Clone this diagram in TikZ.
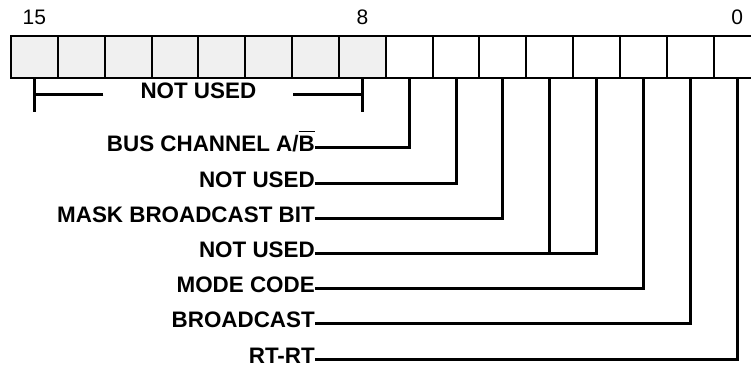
\documentclass[tikz,border=0pt]{standalone}
\usepackage{fontspec}
\setmainfont{Liberation Sans}
\usetikzlibrary{positioning,calc}
\definecolor{unused}{HTML}{F0F0F0}
\newcommand\negbar[1]{\setbox0\hbox{#1}\rlap{\rule[19.5pt]{\wd0}{1.5pt}}\box0}

\begin{document}
\begin{tikzpicture}[x=1pt,y=-1pt,on grid,
    cell/.style={draw,line width=2pt,minimum width=46.85pt,minimum height=42pt,inner sep=0pt,outer sep=0pt},
    num/.style={font=\fontsize{21}{25}\selectfont,anchor=base,inner sep=0pt},
    lbl/.style={font=\fontsize{22.4}{26}\selectfont\bfseries,inner sep=0pt,text height=8pt,text depth=0pt},
    lead/.style={line width=3pt}]
  \useasboundingbox (0,0) rectangle (751,366);
  \clip (0,0) rectangle (751,366);
  \node[cell,fill=unused] (b_15) at (34.4,57) {};
  \foreach \i [evaluate=\i as \j using int(\i+1)] in {14,...,8}
    \node[cell,fill=unused,right=46.85pt of b_\j] (b_\i) {};
  \foreach \i [evaluate=\i as \j using int(\i+1)] in {7,...,0}
    \node[cell,right=46.85pt of b_\j] (b_\i) {};
  \node[num] (n_15) at ([yshift=11pt]b_15.north) {15};
  \node[num] (n_8) at ([yshift=11pt]b_8.north) {8};
  \node[num] (n_0) at ([yshift=11pt]b_0.north) {0};
  \node[lbl,inner xsep=37pt] (nu) at ($(b_15.south)!.5!(b_8.south)+(0,17)$) {NOT USED};
  \draw[lead] (b_15.south) -- ++(0,34) (b_8.south) -- ++(0,34)
    (nu.west) -- (nu.west -| b_15) (nu.east) -- (nu.east -| b_8);
  \node[lbl,anchor=east] (l_1) at (315,148) {BUS CHANNEL A/\negbar{B}};
  \node[lbl,below=35.17pt of l_1.east,anchor=east] (l_2) {NOT USED};
  \node[lbl,below=35.17pt of l_2.east,anchor=east] (l_3) {MASK BROADCAST BIT};
  \node[lbl,below=35.17pt of l_3.east,anchor=east] (l_4) {NOT USED};
  \node[lbl,below=35.17pt of l_4.east,anchor=east] (l_5) {MODE CODE};
  \node[lbl,below=35.17pt of l_5.east,anchor=east] (l_6) {BROADCAST};
  \node[lbl,below=35.17pt of l_6.east,anchor=east] (l_7) {RT-RT};
  \draw[lead] (l_1) -| (b_7);
  \draw[lead] (l_2) -| (b_6);
  \draw[lead] (l_3) -| (b_5);
  \draw[lead] (l_4) -| (b_3) (b_4) -- (b_4 |- l_4);
  \draw[lead] (l_5) -| (b_2);
  \draw[lead] (l_6) -| (b_1);
  \draw[lead] (l_7) -| (b_0);
\end{tikzpicture}
\end{document}
